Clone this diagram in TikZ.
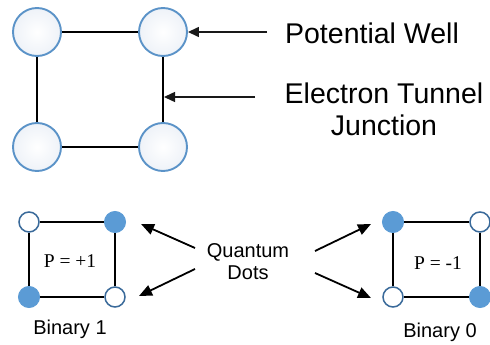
\documentclass[tikz,border=0pt]{standalone}
\usepackage{fontspec}
\setmainfont{Liberation Sans}
\newfontfamily\serifP{Liberation Serif}
\usetikzlibrary{arrows.meta,shadings}
\definecolor{wellblue}{HTML}{5B93C8}
\definecolor{dotblue}{HTML}{5B9BD5}
\definecolor{dotedge}{HTML}{3A6A9A}
\definecolor{wellfill}{HTML}{EEF2F8}
\tikzset{
  well/.style={circle, draw=wellblue, line width=1.9pt, inner color=white, outer color=wellfill, minimum size=48pt, inner sep=0pt},
  fdot/.style={circle, fill=dotblue, draw=dotblue, line width=1pt, minimum size=21pt, inner sep=0pt},
  odot/.style={circle, fill=white, draw=dotedge, line width=1.5pt, minimum size=20pt, inner sep=0pt},
  bond/.style={line width=2.2pt, black},
  pointer/.style={line width=1.4pt, black!90, -{Triangle[length=11pt,width=10pt]}},
  pointerB/.style={line width=1.8pt, black, -{Triangle[length=13pt,width=11pt]}},
  bigtxt/.style={font=\fontsize{28.5}{32}\selectfont, align=center, inner sep=0pt},
  smalltxt/.style={font=\fontsize{20}{22}\selectfont, align=center, inner sep=0pt},
  ptxt/.style={font=\serifP\fontsize{19.5}{21}\selectfont, inner sep=0pt}
}
\begin{document}
\begin{tikzpicture}[x=1pt,y=-1pt]
\useasboundingbox (0,0) rectangle (490,345);
% top big square
\node[well] (w1) at (37,32) {};
\node[well] (w2) at (163,32) {};
\node[well] (w3) at (37,147) {};
\node[well] (w4) at (163,147) {};
\draw[bond] (w1) -- (w2);
\draw[bond] (w1) -- (w3);
\draw[bond] (w3) -- (w4);
\draw[bond] (w2) -- (w4);
\node[bigtxt] (pw) at (372,33) {Potential Well};
\node[bigtxt] (et) at (384,109) {Electron Tunnel\\Junction};
\coordinate (pwa) at (267,32);
\coordinate (eta) at (255,97);
\coordinate (jtip) at (164,97);
\draw[pointer] (pwa) -- (w2.east);
\draw[pointer] (eta) -- (jtip);
% left cell
\node[odot] (a1) at (29,222) {};
\node[fdot] (a2) at (115,222) {};
\node[fdot] (a3) at (29,297) {};
\node[odot] (a4) at (115,297) {};
\draw[bond] (a1) -- (a2);
\draw[bond] (a1) -- (a3);
\draw[bond] (a3) -- (a4);
\draw[bond] (a2) -- (a4);
\node[ptxt] (pl) at (70,261) {P = +1};
\node[smalltxt] (b1) at (70,329) {Binary 1};
% right cell
\node[fdot] (c1) at (393,222) {};
\node[odot] (c2) at (480,222) {};
\node[odot] (c3) at (393,297) {};
\node[fdot] (c4) at (480,297) {};
\draw[bond] (c1) -- (c2);
\draw[bond] (c1) -- (c3);
\draw[bond] (c3) -- (c4);
\draw[bond] (c2) -- (c4);
\node[ptxt] (pr) at (438,263) {P = -1};
\node[smalltxt] (b0) at (440,332) {Binary 0};
% quantum dots
\node[smalltxt] (qd) at (248,262) {Quantum\\Dots};
\coordinate (q1) at (195,248);
\coordinate (q2) at (195,269);
\coordinate (q3) at (315,251);
\coordinate (q4) at (315,273);
\coordinate (t1) at (141,224);
\coordinate (t2) at (139,296);
\coordinate (t3) at (371,224);
\coordinate (t4) at (371,298);
\draw[pointerB] (q1) -- (t1);
\draw[pointerB] (q2) -- (t2);
\draw[pointerB] (q3) -- (t3);
\draw[pointerB] (q4) -- (t4);
\end{tikzpicture}
\end{document}
